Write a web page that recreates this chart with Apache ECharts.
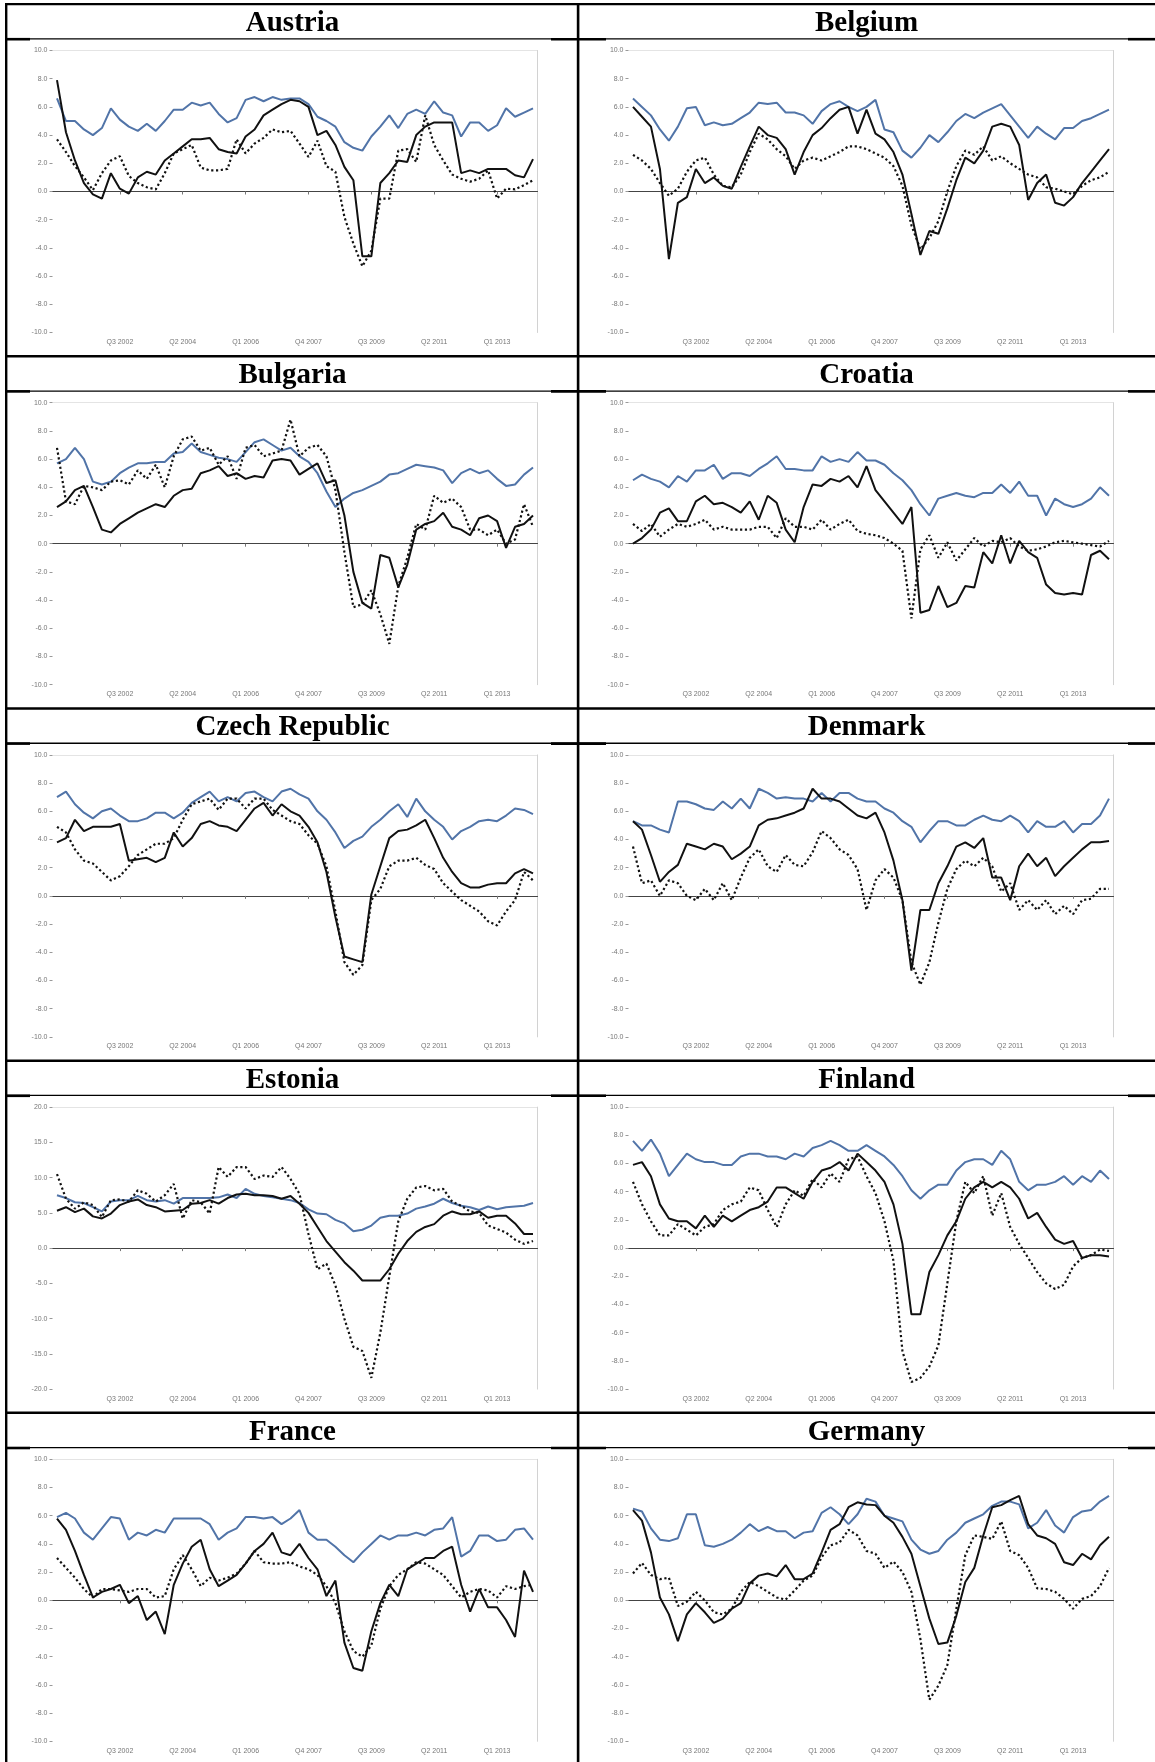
<!DOCTYPE html>
<html>
<head>
<meta charset="utf-8">
<script src="https://cdn.jsdelivr.net/npm/echarts@6/dist/echarts.min.js"></script>
<style>
  html, body { margin: 0; padding: 0; background: #fff; }
  #main { width: 1155px; height: 1762px; }
</style>
</head>
<body>
<div id="main"></div>
<script>
// quarterly categories, Q4 2000 .. Q1 2014
var quarters = [
  'Q4 2000',
  'Q1 2001','Q2 2001','Q3 2001','Q4 2001',
  'Q1 2002','Q2 2002','Q3 2002','Q4 2002',
  'Q1 2003','Q2 2003','Q3 2003','Q4 2003',
  'Q1 2004','Q2 2004','Q3 2004','Q4 2004',
  'Q1 2005','Q2 2005','Q3 2005','Q4 2005',
  'Q1 2006','Q2 2006','Q3 2006','Q4 2006',
  'Q1 2007','Q2 2007','Q3 2007','Q4 2007',
  'Q1 2008','Q2 2008','Q3 2008','Q4 2008',
  'Q1 2009','Q2 2009','Q3 2009','Q4 2009',
  'Q1 2010','Q2 2010','Q3 2010','Q4 2010',
  'Q1 2011','Q2 2011','Q3 2011','Q4 2011',
  'Q1 2012','Q2 2012','Q3 2012','Q4 2012',
  'Q1 2013','Q2 2013','Q3 2013','Q4 2013',
  'Q1 2014'
];

var countries = ['Austria', 'Belgium', 'Bulgaria', 'Croatia', 'Czech Republic',
                 'Denmark', 'Estonia', 'Finland', 'France', 'Germany'];

var austriaBlue = [6.6,5.0,5.0,4.4,4.0,4.5,5.9,5.1,4.6,4.3, 4.8,4.3,5.0,5.8,5.8,6.3,6.1,6.3,5.5,4.9,
  5.2,6.5,6.7,6.4,6.7,6.5,6.6,6.6,6.2,5.3, 5.0,4.6,3.5,3.1,2.9,3.9,4.6,5.4,4.5,5.5,
  5.8,5.5,6.4,5.6,5.4,3.9,4.9,4.9,4.3,4.7, 5.9,5.3,5.6,5.9];
var austriaSolid = [7.9,4.2,2.2,0.6,-0.2,-0.5,1.3,0.2,-0.15,1.0, 1.4,1.2,2.2,2.7,3.2,3.7,3.7,3.8,3.0,2.8,
  2.7,3.9,4.4,5.4,5.8,6.2,6.5,6.4,6.0,4.0, 4.3,3.3,1.75,0.8,-4.6,-4.6,0.6,1.3,2.2,2.1,
  4.0,4.6,4.9,4.9,4.9,1.3,1.5,1.3,1.6,1.6, 1.6,1.15,1.0,2.3];
var austriaDotted = [3.7,2.8,1.8,1.0,0.1,1.3,2.2,2.5,1.1,0.6, 0.3,0.15,1.3,2.7,3.0,3.3,1.7,1.5,1.5,1.6,
  3.7,2.7,3.4,3.8,4.4,4.2,4.3,3.4,2.45,3.6, 1.8,1.4,-1.8,-3.7,-5.3,-4.2,-0.5,-0.5,2.9,3.0,
  2.1,5.4,3.3,2.2,1.2,0.9,0.7,0.9,1.5,-0.5, 0.2,0.15,0.45,0.8];

var belgiumBlue = [6.6,6.0,5.4,4.4,3.6,4.6,5.9,6.0,4.7,4.9, 4.7,4.8,5.2,5.6,6.3,6.2,6.3,5.6,5.6,5.4,
  4.8,5.7,6.2,6.4,6.0,5.7,6.0,6.5,4.4,4.2, 2.9,2.4,3.1,4.0,3.5,4.2,5.0,5.5,5.2,5.6,
  5.9,6.2,5.4,4.6,3.8,4.6,4.1,3.7,4.5,4.5, 5.0,5.2,5.5,5.8];
var belgiumSolid = [6.0,5.3,4.6,1.6,-4.8,-0.8,-0.4,1.6,0.6,1.0, 0.4,0.2,1.75,3.2,4.6,4.0,3.8,3.0,1.2,2.8,
  4.0,4.5,5.2,5.8,6.0,4.1,5.8,4.1,3.7,2.8, 1.2,-1.6,-4.5,-2.8,-3.0,-1.2,0.8,2.4,2.0,2.9,
  4.6,4.8,4.6,3.3,-0.6,0.6,1.2,-0.8,-1.0,-0.4, 0.6,1.4,2.2,3.0];
var belgiumDotted = [2.6,2.2,1.6,0.6,-0.3,0.2,1.4,2.2,2.4,1.2, 0.4,0.3,1.2,2.8,4.1,3.7,3.0,2.5,1.6,2.2,
  2.4,2.2,2.5,2.8,3.2,3.2,3.0,2.7,2.4,1.8, 0.4,-2.4,-4.1,-3.3,-2.1,0.0,1.8,2.9,2.6,3.2,
  2.2,2.5,2.0,1.6,1.2,1.0,0.3,0.2,0.0,-0.2, 0.4,0.8,1.0,1.4];

var bulgariaBlue = [5.7,6.0,6.8,6.0,4.4,4.2,4.4,5.0,5.4,5.7, 5.7,5.8,5.8,6.4,6.5,7.1,6.5,6.3,6.1,6.0,
  5.8,6.5,7.2,7.4,7.0,6.6,6.8,6.2,5.8,5.0, 3.7,2.6,3.2,3.6,3.8,4.1,4.4,4.9,5.0,5.3,
  5.6,5.5,5.4,5.2,4.3,5.0,5.3,5.0,5.2,4.6, 4.1,4.2,4.9,5.4];
var bulgariaSolid = [2.6,3.0,3.8,4.1,2.6,1.0,0.8,1.4,1.8,2.2, 2.5,2.8,2.6,3.4,3.8,3.9,5.0,5.2,5.5,4.8,
  5.0,4.6,4.8,4.7,5.9,6.0,5.9,4.9,5.3,5.7, 4.3,4.5,2.0,-2.0,-4.2,-4.6,-0.8,-1.0,-3.1,-1.5,
  1.0,1.4,1.6,2.2,1.2,1.0,0.6,1.8,2.0,1.6, -0.3,1.2,1.4,2.0];
var bulgariaDotted = [6.8,3.0,2.8,4.1,4.0,3.8,4.4,4.5,4.2,5.2, 4.6,5.6,4.0,6.2,7.4,7.6,6.6,6.8,5.6,6.2,
  4.6,6.8,7.0,6.2,6.4,6.6,8.8,6.2,6.8,7.0, 6.2,3.8,-0.6,-4.5,-4.3,-3.3,-5.0,-7.1,-3.0,-1.0,
  1.4,1.0,3.4,2.9,3.2,2.6,1.0,1.0,0.6,1.0, 0.0,0.3,2.8,1.2];

var croatiaBlue = [4.5,4.9,4.6,4.4,4.0,4.8,4.4,5.2,5.2,5.6, 4.6,5.0,5.0,4.8,5.3,5.7,6.2,5.3,5.3,5.2,
  5.2,6.2,5.8,6.0,5.8,6.5,5.9,5.9,5.6,5.0, 4.5,3.8,2.8,2.0,3.2,3.4,3.6,3.4,3.3,3.6,
  3.6,4.2,3.6,4.4,3.4,3.4,2.0,3.2,2.8,2.6, 2.8,3.2,4.0,3.4];
var croatiaSolid = [0.0,0.4,1.0,2.2,2.5,1.6,1.6,3.0,3.4,2.8, 2.9,2.6,2.2,3.0,1.7,3.4,2.9,1.0,0.1,2.6,
  4.2,4.1,4.6,4.4,4.8,4.0,5.5,3.8,3.0,2.2, 1.4,2.6,-4.9,-4.7,-3.0,-4.5,-4.2,-3.0,-3.1,-0.6,
  -1.4,0.6,-1.4,0.2,-0.6,-1.0,-2.9,-3.5,-3.6,-3.5, -3.6,-0.8,-0.5,-1.1];
var croatiaDotted = [1.4,0.9,1.4,0.5,1.0,1.4,1.2,1.4,1.7,1.0, 1.2,1.0,1.0,1.0,1.2,1.2,0.4,1.8,1.2,1.2,
  1.0,1.7,1.0,1.4,1.7,0.9,0.7,0.6,0.4,0.0, -0.5,-5.3,-0.4,0.6,-1.0,0.1,-1.2,-0.4,0.4,-0.2,
  0.2,0.1,0.4,-0.2,-0.5,-0.4,-0.2,0.1,0.2,0.1, 0.0,-0.1,-0.2,0.2];

var czechBlue = [7.0,7.4,6.5,5.9,5.5,6.0,6.2,5.7,5.3,5.3, 5.5,5.9,5.9,5.5,5.9,6.6,7.0,7.4,6.7,7.0,
  6.7,7.3,7.4,7.0,6.7,7.4,7.6,7.2,6.9,6.0, 5.4,4.5,3.4,3.9,4.2,4.9,5.4,6.0,6.5,5.6,
  6.9,6.0,5.4,4.9,4.0,4.6,4.9,5.3,5.4,5.3, 5.7,6.2,6.1,5.8];
var czechSolid = [3.8,4.1,5.4,4.6,4.9,4.9,4.9,5.1,2.5,2.6, 2.7,2.4,2.7,4.5,3.5,4.1,5.1,5.3,5.0,4.9,
  4.6,5.4,6.2,6.6,5.7,6.5,6.0,5.7,4.9,3.8, 1.7,-1.5,-4.3,-4.5,-4.7,0.1,2.1,4.1,4.6,4.7,
  5.0,5.4,4.1,2.7,1.7,0.9,0.6,0.6,0.8,0.9, 0.9,1.6,1.9,1.6];
var czechDotted = [4.9,4.5,3.3,2.5,2.3,1.7,1.1,1.4,2.1,2.9, 3.3,3.7,3.7,4.1,5.4,6.5,6.7,6.9,6.1,6.9,
  6.9,6.2,6.9,6.9,6.1,5.7,5.3,5.1,4.3,3.7, 2.1,-1.1,-4.7,-5.6,-4.9,-0.3,0.5,2.1,2.5,2.5,
  2.7,2.2,1.9,0.9,0.3,-0.3,-0.7,-1.1,-1.8,-2.1, -1.1,-0.3,1.7,1.1];

var denmarkBlue = [5.3,5.0,5.0,4.7,4.5,6.7,6.7,6.5,6.2,6.1, 6.7,6.2,6.9,6.2,7.6,7.3,6.9,7.0,6.9,6.9,
  6.7,7.3,6.7,7.3,7.3,6.9,6.7,6.7,6.2,5.9, 5.3,4.9,3.8,4.6,5.3,5.3,5.0,5.0,5.4,5.7,
  5.4,5.3,5.7,5.3,4.5,5.3,4.9,4.9,5.3,4.5, 5.1,5.1,5.7,6.9];
var denmarkSolid = [5.3,4.7,2.9,1.0,1.7,2.2,3.7,3.5,3.3,3.7, 3.5,2.6,3.0,3.5,5.0,5.4,5.5,5.7,5.9,6.2,
  7.6,6.9,6.9,6.7,6.2,5.7,5.5,5.9,4.5,2.5, -0.3,-5.3,-1.0,-1.0,0.9,2.1,3.5,3.8,3.4,4.1,
  1.3,1.3,-0.3,2.1,3.0,2.1,2.7,1.4,2.1,2.7, 3.3,3.8,3.8,3.9];
var denmarkDotted = [3.5,0.9,1.1,0.0,1.1,0.9,0.0,-0.3,0.5,-0.3, 0.9,-0.3,1.3,2.7,3.3,2.1,1.7,2.9,2.2,2.1,
  3.1,4.6,4.1,3.3,2.9,1.9,-1.0,1.1,1.9,1.3, -0.3,-4.7,-6.3,-4.7,-1.9,0.5,1.9,2.5,2.1,2.7,
  2.1,0.3,0.9,-1.0,-0.3,-1.0,-0.3,-1.3,-0.7,-1.3, -0.3,-0.2,0.5,0.5];

var estoniaBlue = [7.5,7.1,6.5,6.4,5.8,5.2,6.6,6.8,6.8,7.4, 6.8,6.6,6.8,6.3,7.1,7.1,7.1,7.1,7.2,7.6,
  7.1,8.4,7.7,7.4,7.2,7.0,6.8,6.4,5.5,4.9, 4.8,4.0,3.5,2.4,2.6,3.2,4.3,4.6,4.6,4.9,
  5.6,5.9,6.3,7.0,6.4,6.0,5.8,5.4,5.9,5.5, 5.8,5.9,6.0,6.4];
var estoniaSolid = [5.3,5.8,5.1,5.6,4.5,4.2,4.9,6.1,6.6,6.9, 6.1,5.8,5.2,5.3,5.4,6.3,6.4,6.8,6.3,7.1,
  7.6,7.7,7.5,7.5,7.4,7.0,7.4,6.3,5.0,3.0, 1.0,-0.5,-2.0,-3.2,-4.6,-4.6,-4.6,-3.0,-0.8,1.0,
  2.3,3.0,3.4,4.6,5.2,4.8,4.8,5.2,4.3,4.6, 4.6,3.5,2.0,2.0];
var estoniaDotted = [10.5,7.0,5.6,6.5,6.1,4.4,6.8,6.9,6.6,8.2, 7.7,6.6,7.5,9.1,4.2,6.8,6.5,4.9,11.5,10.1,
  11.5,11.5,9.8,10.3,10.1,11.5,9.8,7.7,2.0,-3.0, -2.2,-5.3,-10.0,-14.0,-14.6,-18.4,-12.0,-4.0,3.8,7.0,
  8.6,8.8,8.2,8.4,6.6,6.0,5.2,5.0,3.2,2.7, 2.2,1.2,0.6,1.0];

var finlandBlue = [7.6,6.9,7.7,6.7,5.1,5.9,6.7,6.3,6.1,6.1, 5.9,5.9,6.5,6.7,6.7,6.5,6.5,6.3,6.7,6.5,
  7.1,7.3,7.6,7.3,6.9,6.9,7.3,6.9,6.5,5.9, 5.1,4.1,3.5,4.1,4.5,4.5,5.5,6.1,6.3,6.3,
  5.9,6.9,6.3,4.7,4.1,4.5,4.5,4.7,5.1,4.5, 5.1,4.7,5.5,4.9];
var finlandSolid = [5.9,6.1,5.1,3.1,2.1,1.9,1.9,1.4,2.3,1.5, 2.3,1.9,2.3,2.7,2.9,3.3,4.3,4.3,3.9,3.5,
  4.7,5.5,5.7,6.1,5.5,6.7,6.1,5.5,4.7,3.1, 0.3,-4.7,-4.7,-1.7,-0.5,0.9,1.9,3.5,4.3,4.7,
  4.3,4.7,4.3,3.5,2.1,2.5,1.5,0.6,0.3,0.5, -0.7,-0.5,-0.5,-0.6];
var finlandDotted = [4.7,3.1,1.9,0.9,0.9,1.7,1.3,0.9,1.5,1.7, 2.7,3.1,3.3,4.3,4.1,2.7,1.5,3.1,4.1,3.7,
  4.9,4.3,5.3,4.7,6.3,6.5,5.1,3.9,1.9,-0.9, -7.3,-9.5,-9.2,-8.4,-6.9,-2.5,1.9,4.7,3.9,5.1,
  2.3,3.9,1.5,0.3,-0.7,-1.7,-2.5,-2.9,-2.6,-1.3, -0.7,-0.5,-0.1,-0.2];

var franceBlue = [5.9,6.2,5.8,4.8,4.3,5.1,5.9,5.8,4.3,4.8, 4.6,5.0,4.8,5.8,5.8,5.8,5.8,5.4,4.3,4.8,
  5.1,5.9,5.9,5.8,5.9,5.4,5.8,6.4,4.8,4.3, 4.3,3.8,3.2,2.7,3.4,4.0,4.6,4.3,4.6,4.6,
  4.8,4.6,5.0,5.1,5.9,3.1,3.5,4.6,4.6,4.2, 4.3,5.0,5.1,4.3];
var franceSolid = [5.8,5.0,3.5,1.8,0.2,0.6,0.8,1.1,-0.2,0.3, -1.4,-0.8,-2.4,1.1,2.6,3.8,4.3,2.2,1.0,1.4,
  1.8,2.6,3.5,4.0,4.8,3.4,3.2,4.0,3.0,2.2, 0.3,1.4,-3.0,-4.8,-5.0,-2.2,-0.2,1.1,0.3,2.2,
  2.6,3.0,3.0,3.5,3.8,1.1,-0.8,0.8,-0.5,-0.5, -1.4,-2.6,2.1,0.6];
var franceDotted = [3.0,2.3,1.6,0.8,0.2,0.8,0.8,0.7,0.6,0.8, 0.8,0.2,0.3,2.2,3.2,2.2,1.0,1.6,1.4,1.6,
  1.9,2.6,3.5,2.7,2.6,2.6,2.7,2.4,2.2,1.8, 1.0,-0.2,-2.2,-3.6,-4.0,-3.2,-0.6,1.0,1.8,2.2,
  2.7,2.6,2.2,1.8,1.0,0.2,0.6,0.8,0.7,0.2, 1.0,0.8,1.0,1.1];

var germanyBlue = [6.5,6.3,5.1,4.3,4.2,4.4,6.1,6.1,3.9,3.8, 4.0,4.3,4.8,5.4,4.9,5.2,4.9,4.9,4.4,4.8,
  4.9,6.2,6.6,6.1,5.4,6.1,7.2,7.0,6.0,5.8, 5.6,4.3,3.6,3.3,3.5,4.3,4.8,5.5,5.8,6.1,
  6.7,7.0,7.0,6.8,5.1,5.5,6.4,5.3,4.8,5.9, 6.3,6.4,7.0,7.4];
var germanySolid = [6.4,5.65,3.4,0.2,-1.0,-2.9,-1.0,-0.2,-0.85,-1.6, -1.3,-0.6,-0.2,1.2,1.75,1.9,1.7,2.5,1.5,1.5,
  1.9,3.4,5.0,5.4,6.6,6.95,6.8,6.75,6.0,5.5, 4.5,3.3,1.0,-1.3,-3.1,-3.0,-1.1,1.3,2.3,4.6,
  6.6,6.75,7.1,7.4,5.4,4.6,4.4,4.0,2.7,2.5, 3.3,2.9,3.9,4.5];
var germanyDotted = [1.9,2.65,1.8,1.5,1.6,-0.4,-0.1,0.6,0.0,-0.85, -1.0,-0.6,0.6,1.3,1.0,0.6,0.2,0.05,0.7,1.4,
  1.75,3.05,3.9,4.1,5.0,4.6,3.5,3.3,2.3,2.75, 2.0,0.6,-2.75,-7.05,-6.05,-4.6,-0.6,3.2,4.6,4.5,
  4.35,5.6,3.5,3.2,2.3,0.85,0.8,0.6,0.1,-0.6, 0.1,0.3,1.0,2.3];

// y range per panel: [min, max, step]
var yRanges = [[-10,10,2],[-10,10,2],[-10,10,2],[-10,10,2],[-10,10,2],
               [-10,10,2],[-20,20,5],[-10,10,2],[-10,10,2],[-10,10,2]];

var blueSeries = [austriaBlue, belgiumBlue, bulgariaBlue, croatiaBlue, czechBlue,
                  denmarkBlue, estoniaBlue, finlandBlue, franceBlue, germanyBlue];
var solidSeries = [austriaSolid, belgiumSolid, bulgariaSolid, croatiaSolid, czechSolid,
                   denmarkSolid, estoniaSolid, finlandSolid, franceSolid, germanySolid];
var dottedSeries = [austriaDotted, belgiumDotted, bulgariaDotted, croatiaDotted, czechDotted,
                    denmarkDotted, estoniaDotted, finlandDotted, franceDotted, germanyDotted];

var chart = echarts.init(document.getElementById('main'));

var ROW_TOP = 4, ROW_H = 352.2, HEAD_H = 34.5;
var COL_LEFT = [52.5, 628.5], PLOT_W = 485, PLOT_H = 282;
var labelEvery = function (idx) { return idx > 0 && idx % 7 === 0; };

var grids = [], xAxes = [], yAxes = [], series = [], graphics = [];

countries.forEach(function (name, k) {
    var col = k % 2, row = Math.floor(k / 2);
    var rowTop = ROW_TOP + ROW_H * row;
    var yr = yRanges[k];
    var nLines = Math.round((yr[1] - yr[0]) / yr[2]) + 1;
    var splitColors = [];
    for (var j = 0; j < nLines; j++) {
        var v = yr[0] + j * yr[2];
        splitColors.push(v === 0 ? '#9a9a9a' : (v === yr[1] ? '#e4e4e4' : 'rgba(0,0,0,0)'));
    }

    grids.push({ left: COL_LEFT[col], top: rowTop + 46.5, width: PLOT_W, height: PLOT_H });

    xAxes.push({
        type: 'category', gridIndex: k, data: quarters, boundaryGap: true,
        axisLine: { lineStyle: { color: '#444', width: 1.2 } },
        axisTick: { show: true, alignWithLabel: true, interval: labelEvery, length: 3,
                    lineStyle: { color: '#777' } },
        axisLabel: { interval: labelEvery, fontSize: 7, color: '#777', margin: 6,
                     fontFamily: 'Liberation Sans' },
        splitLine: { show: false }
    });

    yAxes.push({
        type: 'value', gridIndex: k, min: yr[0], max: yr[1], interval: yr[2],
        axisLine: { show: false },
        axisTick: { show: true, length: 3, lineStyle: { color: '#999' } },
        axisLabel: { fontSize: 7, color: '#777', margin: 5, fontFamily: 'Liberation Sans',
                     formatter: function (v) { return v.toFixed(1); } },
        splitLine: { show: true, lineStyle: { color: splitColors, width: 1 } }
    });
    yAxes.push({
        type: 'value', gridIndex: k, position: 'right', min: yr[0], max: yr[1], interval: yr[2],
        axisLine: { show: true, lineStyle: { color: '#d2d2d2' } },
        axisTick: { show: false }, axisLabel: { show: false }, splitLine: { show: false }
    });

    series.push({
        type: 'line', xAxisIndex: k, yAxisIndex: 2 * k, data: blueSeries[k],
        symbol: 'none', lineStyle: { color: '#5174a8', width: 2 }, z: 3
    });
    series.push({
        type: 'line', xAxisIndex: k, yAxisIndex: 2 * k, data: dottedSeries[k],
        symbol: 'none', lineStyle: { color: '#111', width: 2.2, type: [2.2, 2.6] }, z: 4
    });
    series.push({
        type: 'line', xAxisIndex: k, yAxisIndex: 2 * k, data: solidSeries[k],
        symbol: 'none', lineStyle: { color: '#111', width: 2 }, z: 5
    });

    // header text
    graphics.push({
        type: 'text', x: col === 0 ? 292.5 : 866.5, y: rowTop + 19.5,
        style: { text: name, font: 'bold 29px "Liberation Serif"', fill: '#000',
                 align: 'center', verticalAlign: 'middle' }
    });
});

// table rules
function bar(x, y, w, h) {
    graphics.push({ type: 'rect', shape: { x: x, y: y, width: w, height: h },
                    style: { fill: '#000' }, z: 100 });
}
bar(5, 3, 1150, 2.3);
bar(5, 3, 2.4, 1759);
bar(576.8, 3, 2.6, 1759);
for (var r = 0; r < 5; r++) {
    var rowY = ROW_TOP + ROW_H * r;
    if (r > 0) bar(5, rowY - 1.2, 1150, 2.5);
    bar(5, rowY + HEAD_H - 0.3, 1150, 1.3);
    bar(5, rowY + HEAD_H - 0.6, 25, 2.6);
    bar(551, rowY + HEAD_H - 0.6, 55, 2.6);
    bar(1128, rowY + HEAD_H - 0.6, 27, 2.6);
}

chart.setOption({
    animation: false,
    backgroundColor: '#fff',
    grid: grids,
    xAxis: xAxes,
    yAxis: yAxes,
    series: series,
    graphic: graphics
});
</script>
</body>
</html>
